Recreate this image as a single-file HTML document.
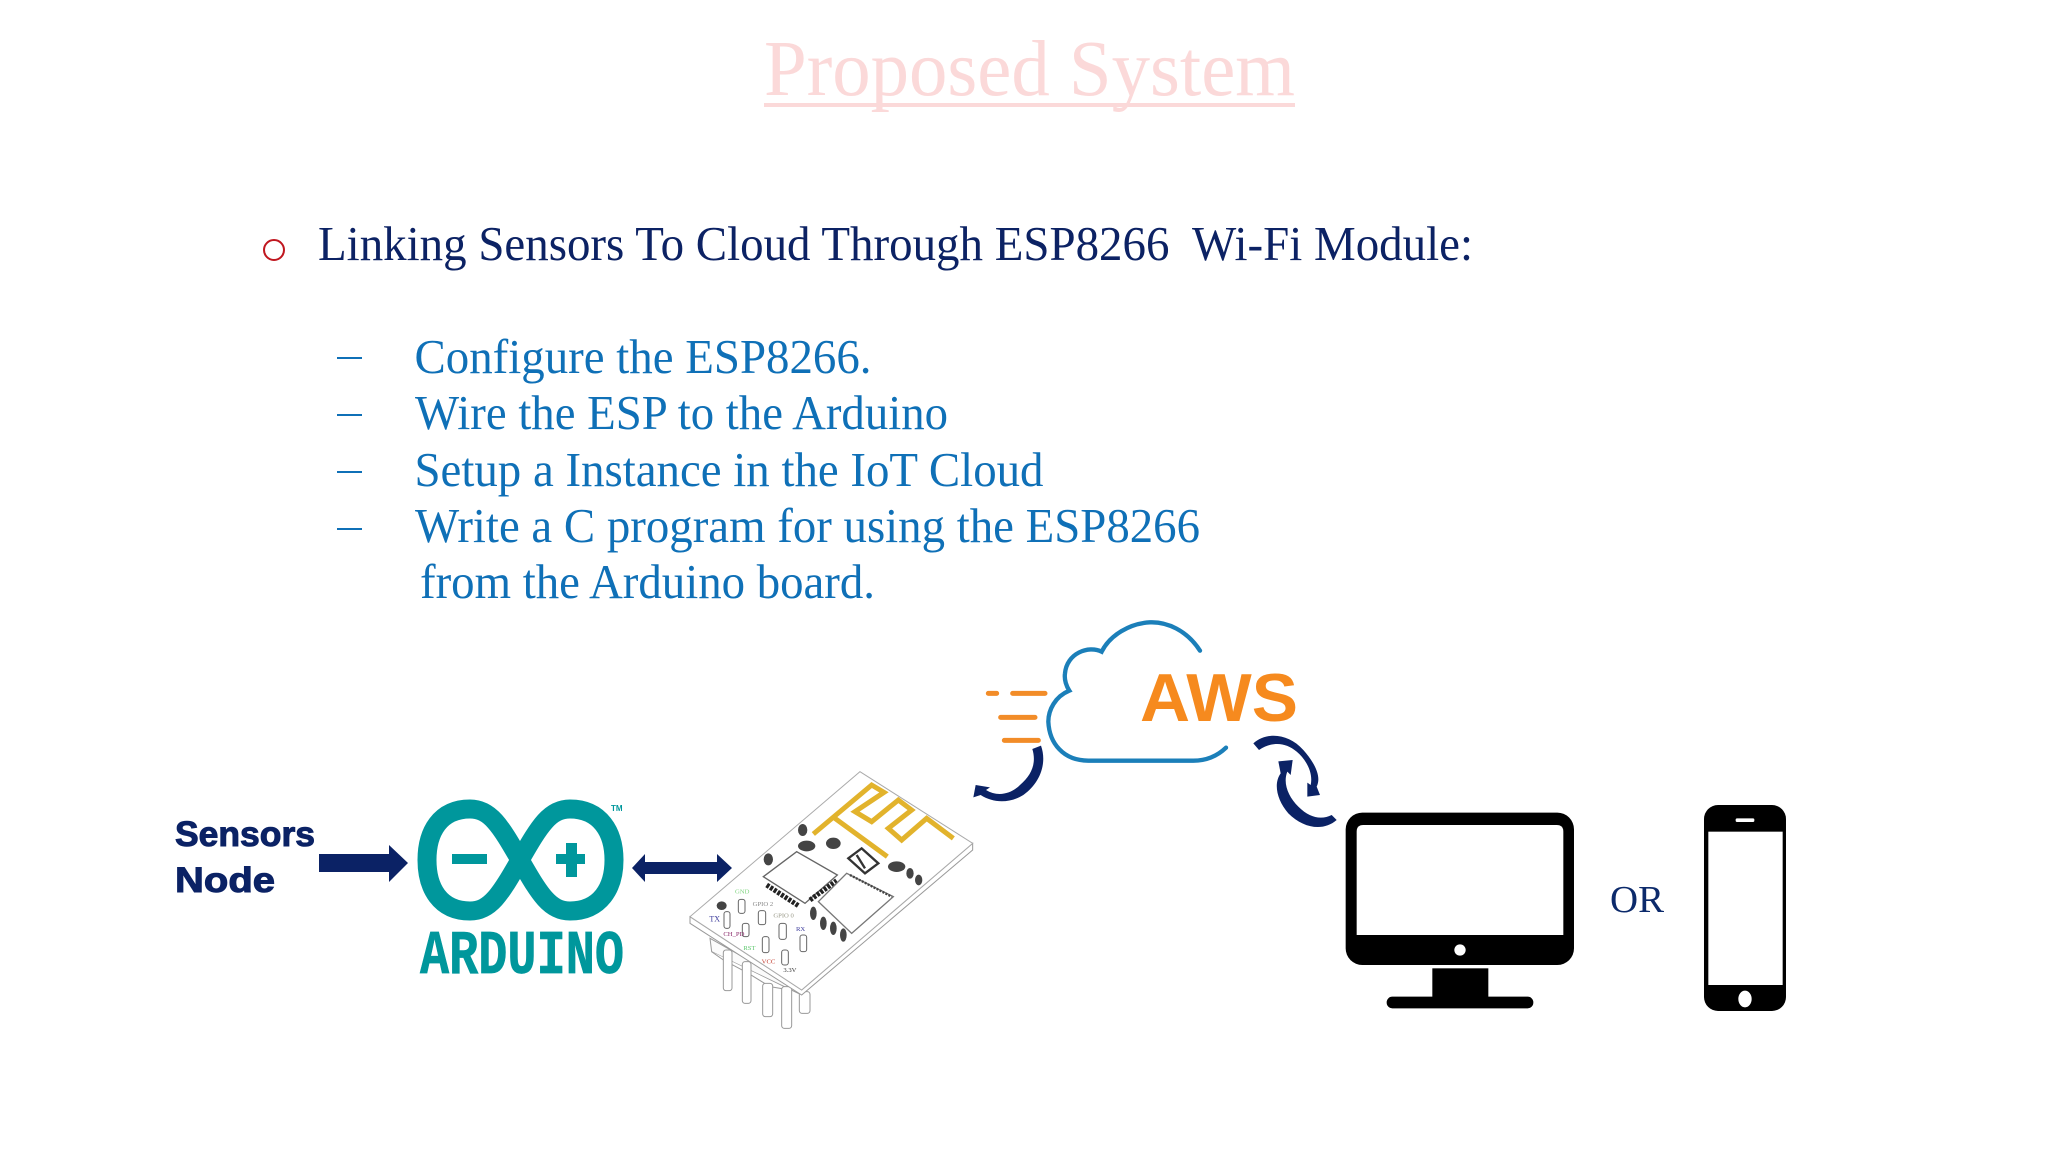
<!DOCTYPE html>
<html><head><meta charset="utf-8"><title>Proposed System</title>
<style>html,body{margin:0;padding:0;background:#fff}svg{display:block}
.s{font-family:"Liberation Serif",serif}.b{font-family:"Liberation Sans",sans-serif;font-weight:bold}</style></head>
<body>
<svg width="2048" height="1152" viewBox="0 0 2048 1152" xmlns="http://www.w3.org/2000/svg">
<rect width="2048" height="1152" fill="#fff"/>
<text class="s" x="764" y="95" font-size="79" fill="#fbd9d9" textLength="531" lengthAdjust="spacingAndGlyphs">Proposed System</text>
<rect x="764" y="103" width="531" height="4" fill="#fbd9d9"/>
<circle cx="274" cy="250" r="10" fill="none" stroke="#c0171f" stroke-width="2"/>
<text class="s" x="318" y="260" font-size="48.500" fill="#0c2264" textLength="1155" lengthAdjust="spacingAndGlyphs" xml:space="preserve">Linking Sensors To Cloud Through ESP8266  Wi-Fi Module:</text>
<g fill="#0f70b7" font-size="48.500">
<rect x="337" y="357" width="25" height="2"/><rect x="337" y="414" width="25" height="2"/><rect x="337" y="471" width="25" height="2"/><rect x="337" y="528" width="25" height="2"/>
<text class="s" x="414.500" y="373" textLength="457" lengthAdjust="spacingAndGlyphs">Configure the ESP8266.</text>
<text class="s" x="415" y="429" textLength="533" lengthAdjust="spacingAndGlyphs">Wire the ESP to the Arduino</text>
<text class="s" x="414.500" y="486" textLength="629" lengthAdjust="spacingAndGlyphs">Setup a Instance in the IoT Cloud</text>
<text class="s" x="415" y="542" textLength="785" lengthAdjust="spacingAndGlyphs">Write a C program for using the ESP8266</text>
<text class="s" x="420" y="598" textLength="455" lengthAdjust="spacingAndGlyphs">from the Arduino board.</text>
</g>
<!-- Sensors node -->
<g fill="#0b2265" stroke="#0b2265" stroke-width="1">
<text class="b" x="175" y="846" font-size="35" textLength="140" lengthAdjust="spacingAndGlyphs">Sensors</text>
<text class="b" x="175" y="892" font-size="35" textLength="100" lengthAdjust="spacingAndGlyphs">Node</text>
</g>
<polygon points="319,854 389,854 389,845 408,863 389,882 389,872 319,872" fill="#0b2265"/>
<polygon points="632,868 645,854 645,862 717,862 717,854 732,868 717,882 717,874 645,874 645,882" fill="#0b2265"/>
<!-- Arduino -->
<path d="M520 860C500 825 490 809 470 809C440 809 427 832 427 860C427 888 440 911 470 911C490 911 500 895 520 860C540 825 550 809 570 809C600 809 614 832 614 860C614 888 600 911 570 911C550 911 540 895 520 860Z" fill="none" stroke="#00979c" stroke-width="19"/>
<rect x="452" y="854" width="35" height="10" fill="#00979c"/>
<rect x="556" y="854" width="29" height="10" fill="#00979c"/><rect x="566" y="843" width="11" height="34" fill="#00979c"/>
<text class="b" x="611" y="811" font-size="8" fill="#00979c">TM</text>
<text x="420" y="973" font-family="'Liberation Mono',monospace" font-weight="bold" font-size="62" fill="#00979c" stroke="#00979c" stroke-width=".7" textLength="204" lengthAdjust="spacingAndGlyphs">ARDUINO</text>
<!-- ESP module -->
<g transform="translate(680,760) scale(.33333)">
<g fill="#fff" stroke="#999" stroke-width="3">
<path d="M90 535L95 575L365 705L365 690Z" fill="#fbfbfb"/>
<path d="M95 575L130 600L205 640L270 680L330 690"/>
<rect x="130" y="570" width="26" height="122" rx="8"/><rect x="187" y="605" width="26" height="125" rx="8"/>
<rect x="248" y="670" width="30" height="100" rx="8"/><rect x="305" y="680" width="30" height="125" rx="8"/><rect x="358" y="695" width="32" height="65" rx="8"/>
<polygon points="30,470 30,490 365,705 878,270 878,250 365,690"/>
<polygon points="540,35 878,250 365,690 30,470" stroke="#aaa"/>
</g>
<path d="M400 222L575 75L612 97L525 155L575 185L655 120L695 150L625 205L665 240L740 175L820 235M465 175L622 290" fill="none" stroke="#e2b32c" stroke-width="15"/>
<polygon points="250,350 350,275 472,345 375,430" fill="#fff" stroke="#666" stroke-width="4"/>
<path d="M260 375L355 437M390 420L470 362" stroke="#222" stroke-width="15" stroke-dasharray="9 4" fill="none"/>
<polygon points="415,425 500,340 640,410 515,520" fill="#fff" stroke="#777" stroke-width="4"/>
<path d="M510 345L635 410" stroke="#444" stroke-width="7" stroke-dasharray="6 4" fill="none"/>
<path d="M505 295L545 265L595 310L555 340ZM530 285L555 325" fill="none" stroke="#333" stroke-width="7"/>
<g fill="#444">
<ellipse cx="368" cy="210" rx="14" ry="18"/><ellipse cx="265" cy="298" rx="14" ry="18"/><ellipse cx="380" cy="258" rx="26" ry="16"/><ellipse cx="460" cy="250" rx="22" ry="17"/><ellipse cx="650" cy="320" rx="26" ry="16"/><ellipse cx="690" cy="340" rx="11" ry="16"/><ellipse cx="716" cy="360" rx="11" ry="16"/><ellipse cx="400" cy="460" rx="10" ry="20"/><ellipse cx="430" cy="490" rx="10" ry="20"/><ellipse cx="460" cy="505" rx="10" ry="20"/><ellipse cx="490" cy="525" rx="10" ry="20"/><ellipse cx="125" cy="437" rx="15" ry="13"/>
</g>
<g fill="#fff" stroke="#666" stroke-width="3">
<rect x="175" y="418" width="20" height="42" rx="7"/><rect x="235" y="452" width="22" height="42" rx="7"/><rect x="297" y="490" width="22" height="48" rx="7"/><rect x="360" y="525" width="20" height="50" rx="7"/><rect x="247" y="530" width="20" height="48" rx="7"/><rect x="305" y="570" width="20" height="45" rx="7"/><rect x="132" y="455" width="18" height="50" rx="7"/><rect x="187" y="490" width="20" height="40" rx="7"/>
</g>
<g font-size="20" font-family="Liberation Serif,serif">
<text x="165" y="400" fill="#7fd47f">GND</text><text x="218" y="438" fill="#888">GPIO 2</text><text x="280" y="473" fill="#998">GPIO 0</text><text x="88" y="485" fill="#3d3c9c" font-size="24">TX</text><text x="130" y="528" fill="#8a2a6a">CH_PD</text><text x="348" y="513" fill="#3d3c9c">RX</text><text x="190" y="570" fill="#5fc86f">RST</text><text x="245" y="610" fill="#c0392b">VCC</text><text x="310" y="636" fill="#333">3.3V</text>
</g>
</g>
<!-- Cloud + AWS -->
<g transform="translate(960,600) scale(.33333)">
<path d="M720 152C680 90 620 65 570 67C510 70 450 105 425 155C385 135 320 160 315 220C312 240 320 260 328 272C285 290 265 330 265 365C268 430 310 482 385 482L700 482C745 482 775 465 798 443" fill="none" stroke="#1b7fb9" stroke-width="13" stroke-linecap="round"/>
<path d="M85 280H110M158 280H255M122 352H225M133 421H235" stroke="#f28c28" stroke-width="15" stroke-linecap="round"/>
<path d="M217 447L243 437C262 490 240 550 190 585C150 610 100 610 62 585L40 592L47 555L90 562L78 570C110 590 150 585 180 555C215 525 230 490 217 447Z" fill="#0b2265"/>
<path d="M880 430C920 395 985 400 1030 450C1065 490 1085 530 1070 560L1080 585L1042 590L1042 548L1052 555C1060 520 1040 480 1010 455C975 425 935 425 897 450Z" fill="#0b2265"/>
<path d="M1130 660C1090 695 1030 685 985 640C950 600 940 550 962 520L955 484L998 480L992 525L982 515C968 550 985 590 1015 620C1050 655 1085 660 1115 645Z" fill="#0b2265"/>
</g>
<text class="b" x="1140" y="721" font-size="68" fill="#f68a1e" textLength="158" lengthAdjust="spacingAndGlyphs">AWS</text>
<!-- Monitor + phone -->
<g transform="translate(1320,790) scale(.33333)">
<rect x="77" y="68" width="685" height="457" rx="50"/>
<path d="M110 435V125Q110 105 130 105H710Q730 105 730 125V435Z" fill="#fff"/>
<circle cx="420" cy="480" r="17" fill="#fff"/>
<rect x="337" y="535" width="168" height="95"/><rect x="200" y="620" width="440" height="35" rx="17"/>
<rect x="1152" y="45" width="246" height="618" rx="42"/>
<rect x="1165" y="125" width="223" height="460" fill="#fff"/>
<rect x="1247" y="85" width="56" height="11" rx="4" fill="#fff"/>
<ellipse cx="1275" cy="627" rx="20" ry="25" fill="#fff"/>
</g>
<text class="s" x="1610" y="912" font-size="38" fill="#0c2a6b" textLength="54" lengthAdjust="spacingAndGlyphs">OR</text>
</svg>
</body></html>
